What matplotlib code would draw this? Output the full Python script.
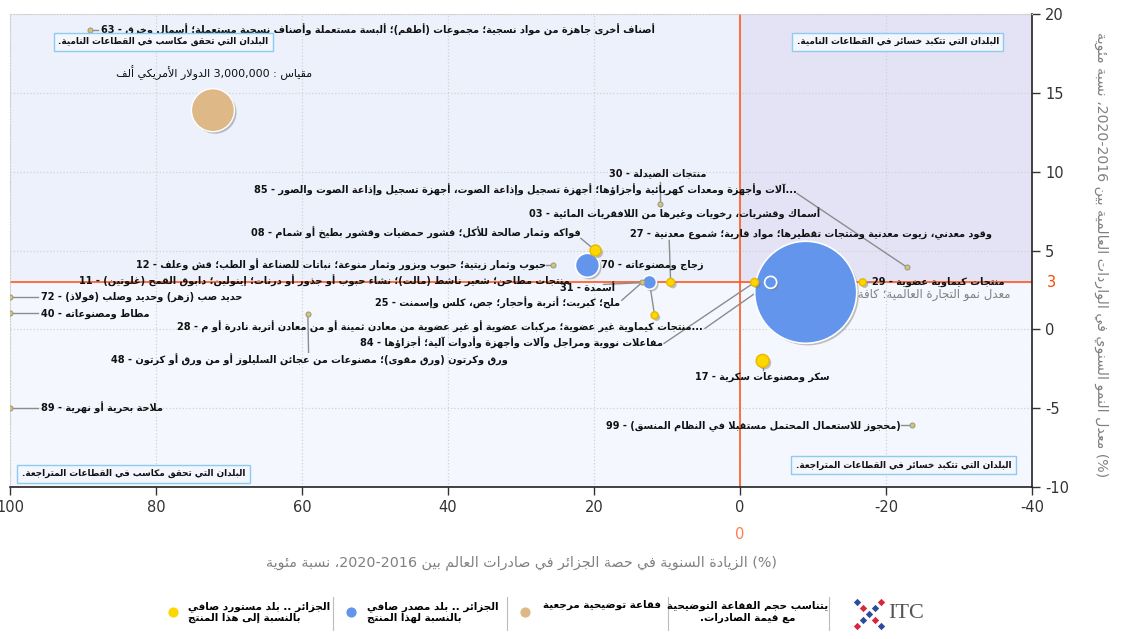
import re
import numpy as np
import matplotlib
matplotlib.use('Agg')
import matplotlib.pyplot as plt
import matplotlib.patheffects as pe
from matplotlib.patches import Rectangle

plt.rcParams['font.family'] = ['DejaVu Sans']
plt.rcParams['axes.unicode_minus'] = False

# ---------------- data ----------------
codes = ['63', '30', '85', '03', '27', '08', '70', '12', '11', '72', '40',
         '25', '31', '28', '84', '48', '89', '29', '17', '99', '', '']
names = [
    'أصناف أخرى جاهزة من مواد نسجية؛ مجموعات (أطقم)؛ ألبسة مستعملة وأصناف نسجية مستعملة؛ أسمال وخرق',
    'منتجات الصيدلة',
    '...آلات وأجهزة ومعدات كهربائية وأجزاؤها؛ أجهزة تسجيل وإذاعة الصوت، أجهزة تسجيل وإذاعة الصوت والصور',
    'أسماك وقشريات، رخويات وغيرها من اللافقريات المائية',
    'وقود معدني، زيوت معدنية ومنتجات تقطيرها؛ مواد قارية؛ شموع معدنية',
    'فواكه وثمار صالحة للأكل؛ قشور حمضيات وقشور بطيخ أو شمام',
    'زجاج ومصنوعاته',
    'حبوب وثمار زيتية؛ حبوب وبزور وثمار منوعة؛ نباتات للصناعة أو الطب؛ قش وعلف',
    'منتجات مطاحن؛ شعير ناشط (مالت)؛ نشاء حبوب أو جذور أو درنات؛ إينولين؛ دابوق القمح (غلوتين)',
    'حديد صب (زهر) وحديد وصلب (فولاذ)',
    'مطاط ومصنوعاته',
    'ملح؛ كبريت؛ أتربة وأحجار؛ جص، كلس وإسمنت',
    'أسمدة',
    '...منتجات كيماوية غير عضوية؛ مركبات عضوية أو غير عضوية من معادن ثمينة أو من معادن أتربة نادرة أو م',
    'مفاعلات نووية ومراجل وآلات وأجهزة وأدوات آلية؛ أجزاؤها',
    'ورق وكرتون (ورق مقوى)؛ مصنوعات من عجائن السليلوز أو من ورق أو كرتون',
    'ملاحة بحرية أو نهرية',
    'منتجات كيماوية عضوية',
    'سكر ومصنوعات سكرية',
    '(محجوز للاستعمال المحتمل مستقبلا في النظام المنسق)',
    '',
    '',
]
# annual growth of Algeria's share in world exports (%), inverted axis
share_growth = [89.1, 10.9, -22.9, np.nan, 9.5, 19.8, 20.9, 25.6, np.nan, 100, 100,
                13.4, 12.4, -4.2, -2.0, 59.2, 100, -16.8, -3.1, -23.5, -9.0, 11.7]
# annual growth of world imports (%)
world_growth = [18.96, 7.93, 3.93, np.nan, 2.98, 5.0, 4.06, 4.06, np.nan, 2.03, 1.01,
                2.98, 2.98, 2.98, 2.98, 0.95, -5.0, 2.98, -2.0, -6.09, 2.35, 0.89]
# export value, thousand USD
export_value = [40000, 40000, 40000, 0, 100000, 196000, 935000, 40000, 0, 40000, 40000,
                40000, 318000, 234000, 100000, 40000, 40000, 80000, 274000, 40000,
                16900000, 80000]
# 'exp' = net exporter, 'imp' = net importer
net_role = ['imp', 'imp', 'imp', 'imp', 'imp', 'imp', 'exp', 'imp', 'imp', 'imp', 'imp',
            'imp', 'exp', 'exp', 'imp', 'imp', 'imp', 'imp', 'imp', 'imp', 'exp', 'imp']

ref_value = 3000000
world_rate = 3
x_ticks = [100, 80, 60, 40, 20, 0, -20, -40]
y_ticks = [-10, -5, 0, 5, 10, 15, 20]

x_title = '(%) الزيادة السنوية في حصة الجزائر في صادرات العالم بين 2016-2020، نسبة مئوية'
y_title = '(%) معدل النمو السنوي في الواردات العالمية بين 2016-2020، نسبة مئوية'
world_label = 'معدل نمو التجارة العالمية؛ كافة المنتجات'
scale_label = 'مقياس : 3,000,000 الدولار الأمريكي ألف'
quadrant_labels = ['البلدان التي تحقق مكاسب في القطاعات النامية.',
                   'البلدان التي تتكبد خسائر في القطاعات النامية.',
                   'البلدان التي تحقق مكاسب في القطاعات المتراجعة.',
                   'البلدان التي تتكبد خسائر في القطاعات المتراجعة.']
legend_texts = ['الجزائر .. بلد مستورد صافي\nبالنسبة إلى هذا المنتج',
                'الجزائر .. بلد مصدر صافي\nبالنسبة لهذا المنتج',
                'فقاعة توضيحية مرجعية',
                'يتناسب حجم الفقاعة التوضيحية\nمع قيمة الصادرات.']

# label layout: (x, y, ha, leader_x, leader_y) in data units
label_layout = [
    (87.6, 18.96, 'left', 88.0, 18.96),
    (18.0, 9.89, 'left', 10.9, 9.32),
    (-7.8, 8.81, 'right', -7.8, 8.62),
    (28.9, 7.29, 'left', None, None),
    (15.0, 6.09, 'left', 9.7, 5.64),
    (21.8, 6.09, 'right', 21.8, 5.77),
    (19.1, 4.06, 'left', None, None),
    (26.6, 4.06, 'right', 26.6, 4.06),
    (90.5, 3.04, 'left', None, None),
    (95.8, 2.03, 'left', 96.2, 2.03),
    (95.8, 1.01, 'left', 96.2, 1.01),
    (16.4, 1.65, 'right', 16.2, 1.84),
    (24.6, 2.6, 'left', 18.7, 2.85),
    (5.1, 0.13, 'right', 4.8, 0.06),
    (10.6, -0.89, 'right', 10.4, -0.89),
    (86.2, -1.97, 'left', 59.1, -1.46),
    (95.8, -5.0, 'left', 96.2, -5.0),
    (-18.1, 3.04, 'left', -18.0, 2.98),
    (-3.0, -3.04, 'center', -3.1, -2.6),
    (-22.0, -6.09, 'right', -22.1, -6.09),
    (None, None, None, None, None),
    (None, None, None, 12.4, 2.98),
]

# ---------------- arabic shaping (matplotlib has no complex text layout) ----------------
_letters = ('\u0621\u0622\u0623\u0624\u0625\u0626\u0627\u0628\u0629\u062a\u062b\u062c\u062d\u062e'
            '\u062f\u0630\u0631\u0632\u0633\u0634\u0635\u0636\u0637\u0638\u0639\u063a'
            '\u0641\u0642\u0643\u0644\u0645\u0646\u0647\u0648\u0649\u064a')
_nforms = [1, 2, 2, 2, 2, 4, 2, 4, 2, 4, 4, 4, 4, 4, 2, 2, 2, 2, 4, 4, 4, 4, 4, 4, 4, 4,
           4, 4, 4, 4, 4, 4, 4, 2, 2, 4]
FORMS = {}
_code = 0xFE80
for ch, k in zip(_letters, _nforms):
    FORMS[ch] = [chr(_code + j) for j in range(k)]
    _code += k
LAM_ALEF = {'\u0622': '\ufef5\ufef6', '\u0623': '\ufef7\ufef8',
            '\u0625': '\ufef9\ufefa', '\u0627': '\ufefb\ufefc'}


def joins_next(c):
    return (c in FORMS and len(FORMS[c]) == 4) or c == '\u0640'


def joins_prev(c):
    return (c in FORMS and len(FORMS[c]) >= 2) or c == '\u0640'


def shape(s):
    out, i = [], 0
    while i < len(s):
        c = s[i]
        if c not in FORMS:
            out.append(c)
            i += 1
            continue
        prev = s[i - 1] if i > 0 else ''
        nxt = s[i + 1] if i + 1 < len(s) else ''
        jp = joins_next(prev) and joins_prev(c)
        if c == '\u0644' and nxt in LAM_ALEF:
            out.append(LAM_ALEF[nxt][1 if jp else 0])
            i += 2
            continue
        jn = joins_next(c) and joins_prev(nxt)
        f = FORMS[c]
        out.append(f[3] if jp and jn else f[1] if jp else f[2] if jn else f[0])
        i += 1
    return ''.join(out)


# digit runs stay left-to-right; the hyphen between years is treated as RTL like the original
LTR_RUN = re.compile(r'[0-9A-Za-z%]+(?:[.,:/][0-9A-Za-z]+)*')
MIRROR = str.maketrans('()[]', ')(][')


def rtl(s):
    """logical arabic string -> visual string for left-to-right drawing"""
    lines = []
    for line in s.split('\n'):
        line = shape(line)
        parts, pos = [], 0
        for m in LTR_RUN.finditer(line):
            parts.append(line[pos:m.start()][::-1].translate(MIRROR))
            parts.append(m.group())
            pos = m.end()
        parts.append(line[pos:][::-1].translate(MIRROR))
        lines.append(''.join(reversed(parts)))
    return '\n'.join(lines)


def bubble_size(v):
    # radius in px proportional to sqrt(value); reference bubble ~21.5 px
    r = 21.5 * np.sqrt(v / ref_value)
    return (2 * r * 0.72) ** 2


# ---------------- figure ----------------
fig = plt.figure(figsize=(11.21, 6.39), dpi=100)
fig.patch.set_facecolor('white')
ax = fig.add_axes([10 / 1121, 152 / 639, 1022 / 1121, 473 / 639])
ax.set_xlim(100, -40)
ax.set_ylim(-10, 20)

# quadrant backgrounds
ax.set_facecolor('#f4f7fd')
ax.add_patch(Rectangle((-40, world_rate), 140, 20 - world_rate, color='#edf1fb', zorder=0))
ax.add_patch(Rectangle((-40, world_rate), 40, 20 - world_rate, color='#e3e3f5', zorder=0))

ax.set_xticks(x_ticks)
ax.set_yticks(y_ticks)
ax.yaxis.tick_right()
ax.grid(True, color='#d2d2d2', linestyle=':', linewidth=0.9, zorder=0.5)
ax.set_axisbelow(True)
ax.tick_params(direction='out', length=6, width=1, colors='#333333', labelsize=10.5)
for side in ['top', 'left']:
    ax.spines[side].set_color('#d2d2d2')
    ax.spines[side].set_linestyle(':')
for side in ['bottom', 'right']:
    ax.spines[side].set_color('#222222')
    ax.spines[side].set_linewidth(1.2)

# reference lines
ax.axvline(0, color='#ff5a1f', linewidth=1.2, zorder=1)
ax.axhline(world_rate, color='#ff5a1f', linewidth=1.2, zorder=1)
ax.text(-37.1, 2.2, rtl(world_label), ha='right', va='center', fontsize=8.5,
        color='#808080', zorder=1.5)
ax.annotate('3', xy=(1, world_rate), xycoords=('axes fraction', 'data'), xytext=(11, 0),
            textcoords='offset points', ha='left', va='center', color='#ff4500', fontsize=10.5)
ax.annotate('0', xy=(0, 0), xycoords=('data', 'axes fraction'), xytext=(0, -34),
            textcoords='offset points', ha='center', va='center', color='#ff7f50', fontsize=10.5)

# leader lines
for i, (lx, ly, ha, sx, sy) in enumerate(label_layout):
    if sx is None or np.isnan(share_growth[i]):
        continue
    ax.plot([sx, share_growth[i]], [sy, world_growth[i]], color='#8c8c8c',
            linewidth=1, zorder=2)

# bubbles
shadow = [pe.SimplePatchShadow(offset=(1.5, -1.5), shadow_rgbFace='#777777', alpha=0.45),
          pe.Normal()]
for i in np.argsort(export_value)[::-1]:
    if np.isnan(share_growth[i]) or export_value[i] == 0:
        continue
    v = export_value[i]
    if v < 50000:
        face, edge, lw = '#d9c75e', '#9a9a9a', 0.8
    elif net_role[i] == 'exp':
        face, edge, lw = '#6495ed', 'white', 1.2
    else:
        face, edge, lw = '#ffd700', '#e8b800', 1.0
    sc = ax.scatter(share_growth[i], world_growth[i], s=bubble_size(v), color=face,
                    edgecolors=edge, linewidths=lw, zorder=3)
    if v >= 50000:
        sc.set_path_effects(shadow)

# reference bubble and scale text
sc = ax.scatter(72.2, 13.9, s=bubble_size(ref_value), color='#deb887', edgecolors='white',
                linewidths=1, zorder=3)
sc.set_path_effects(shadow)
ax.text(72.0, 16.3, rtl(scale_label), ha='center', va='center', fontsize=8, color='#111111')

# product labels
for i, (lx, ly, ha, sx, sy) in enumerate(label_layout):
    if lx is None:
        continue
    ax.text(lx, ly, rtl(names[i] + ' - ' + codes[i]), ha=ha, va='center', fontsize=7,
            fontweight='bold', color='#111111', zorder=4)

# quadrant boxes
box_pos = [(79.0, 18.24), (-21.6, 18.24), (83.1, -9.15), (-22.4, -8.6)]
for (bx, by), txt in zip(box_pos, quadrant_labels):
    ax.text(bx, by, rtl(txt), ha='center', va='center', fontsize=6.4, fontweight='bold',
            color='#111111', zorder=5,
            bbox=dict(boxstyle='square,pad=0.5', facecolor='#f3f6fd', edgecolor='#8ecbf0',
                      linewidth=1))

# ---------------- overlay in pixel units for titles and legend ----------------
ov = fig.add_axes([0, 0, 1, 1])
ov.set_xlim(0, 1121)
ov.set_ylim(639, 0)
ov.axis('off')

ov.text(522, 563, rtl(x_title), ha='center', va='center', fontsize=10.3, color='#808080')
ov.text(1101, 255, rtl(y_title), ha='center', va='center', rotation=270, fontsize=10.2,
        color='#808080')

legend_dots = [(173, '#ffd700'), (351, '#6495ed'), (525, '#deb887')]
for lx, col in legend_dots:
    ov.scatter(lx, 612, s=70, color=col, edgecolors='white', linewidths=1)
ov.text(188, 612, rtl(legend_texts[0]), ha='left', va='center', fontsize=7.5,
        fontweight='bold', linespacing=1.15)
ov.text(367, 612, rtl(legend_texts[1]), ha='left', va='center', fontsize=7.5,
        fontweight='bold', linespacing=1.15)
ov.text(543, 605, rtl(legend_texts[2]), ha='left', va='center', fontsize=7.5,
        fontweight='bold')
ov.text(748, 612, rtl(legend_texts[3]), ha='center', va='center', fontsize=7.5,
        fontweight='bold', linespacing=1.15, multialignment='center')
for sx in [333, 507, 668, 829]:
    ov.plot([sx, sx], [597, 630], color='#bbbbbb', linewidth=0.8)

# ITC logo
logo = [(-2, -2, '#2b4c9b'), (-1, -1, '#d7263d'), (0, 0, '#2b4c9b'), (1, 1, '#d7263d'),
        (2, 2, '#2b4c9b'), (-2, 2, '#d7263d'), (-1, 1, '#2b4c9b'), (1, -1, '#2b4c9b'),
        (2, -2, '#d7263d')]
for gx, gy, col in logo:
    ov.scatter(869 + gx * 6, 614 + gy * 6, s=14, marker='D', color=col, linewidths=0)
ov.text(888, 614, 'ITC', ha='left', va='center', fontsize=16, color='#555555',
        family='Liberation Serif')

fig.savefig('out.png', dpi=100, facecolor='white')
